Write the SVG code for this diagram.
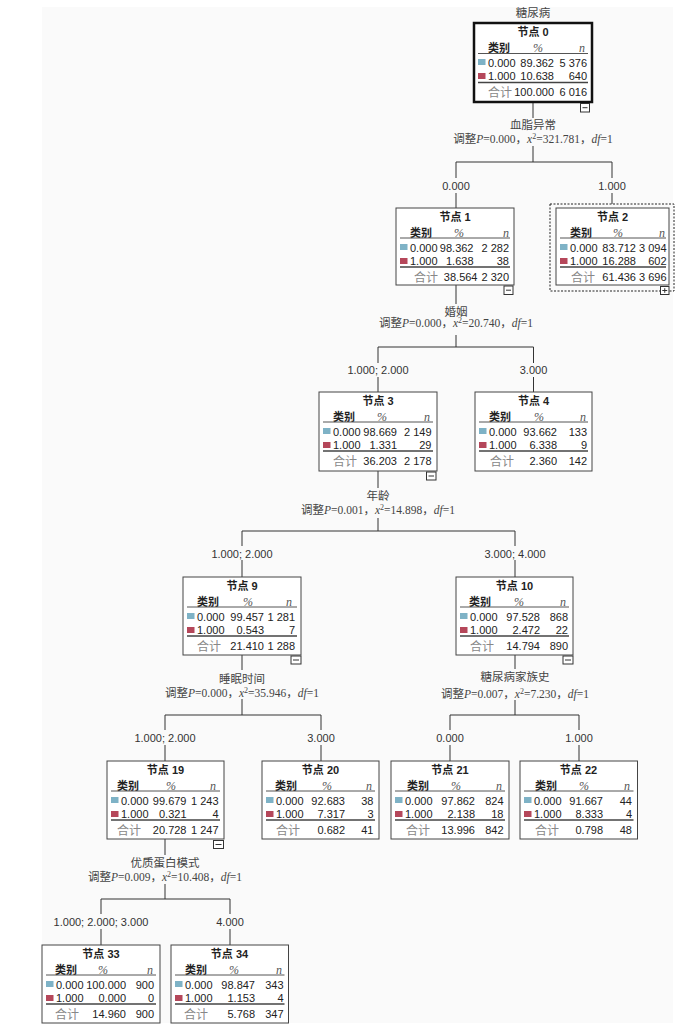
<svg xmlns="http://www.w3.org/2000/svg" width="688" height="1029" viewBox="0 0 688 1029">
<style>
.bg{fill:#fafafa}
.box{fill:#fff;stroke:#444;stroke-width:1}
.box0{fill:#fff;stroke:#111;stroke-width:2.5}
.dash{fill:none;stroke:#222;stroke-width:1;stroke-dasharray:2 1.5}
.title{font-family:"Liberation Sans","Noto Sans CJK SC",sans-serif;font-size:11px;font-weight:bold;fill:#222;text-anchor:middle}
.hdr{font-family:"Noto Sans CJK SC",sans-serif;font-size:11px;font-weight:bold;fill:#222;text-anchor:middle}
.it{font-family:"Liberation Serif",serif;font-style:italic;font-size:12px;fill:#555;text-anchor:middle}
.num{font-family:"Liberation Sans",sans-serif;font-size:11px;fill:#222}
.end{text-anchor:end}
.tot{font-family:"Noto Sans CJK SC",sans-serif;font-size:12px;fill:#888;text-anchor:middle}
.rule{stroke:#555;stroke-width:1}
.rule2{stroke:#444;stroke-width:1.6}
.c0{fill:#7eb2c6}
.c1{fill:#b5475a}
.tog{fill:#fff;stroke:#333;stroke-width:1}
.togl{stroke:#333;stroke-width:1}
.conn line{stroke:#333;stroke-width:1}
.lbl{font-family:"Liberation Serif","Noto Sans CJK SC",serif;font-size:11.5px;fill:#444;text-anchor:middle}
.val{font-family:"Liberation Sans",sans-serif;font-size:11px;fill:#333;text-anchor:middle}
</style>
<rect class="bg" x="42" y="7" width="631" height="1016"/>

<g id="connectors" class="conn">
  <line x1="533" y1="102" x2="533" y2="118"/>
  <line x1="533" y1="146" x2="533" y2="162"/>
  <line x1="456" y1="162" x2="612" y2="162"/>
  <line x1="456" y1="162" x2="456" y2="178"/>
  <line x1="456" y1="193" x2="456" y2="208"/>
  <line x1="612" y1="162" x2="612" y2="178"/>
  <line x1="612" y1="193" x2="612" y2="204"/>

  <line x1="456" y1="285" x2="456" y2="304"/>
  <line x1="456" y1="335" x2="456" y2="347"/>
  <line x1="378" y1="347" x2="533.5" y2="347"/>
  <line x1="378" y1="347" x2="378" y2="363"/>
  <line x1="378" y1="377" x2="378" y2="392"/>
  <line x1="533.5" y1="347" x2="533.5" y2="363"/>
  <line x1="533.5" y1="377" x2="533.5" y2="392"/>

  <line x1="378" y1="471" x2="378" y2="488"/>
  <line x1="378" y1="518" x2="378" y2="531"/>
  <line x1="242" y1="531" x2="515" y2="531"/>
  <line x1="242" y1="531" x2="242" y2="546"/>
  <line x1="242" y1="560" x2="242" y2="577"/>
  <line x1="515" y1="531" x2="515" y2="546"/>
  <line x1="515" y1="560" x2="515" y2="577"/>

  <line x1="242" y1="655" x2="242" y2="670"/>
  <line x1="242" y1="699" x2="242" y2="715"/>
  <line x1="165" y1="715" x2="321" y2="715"/>
  <line x1="165" y1="715" x2="165" y2="730"/>
  <line x1="165" y1="745" x2="165" y2="761"/>
  <line x1="321" y1="715" x2="321" y2="730"/>
  <line x1="321" y1="745" x2="321" y2="761"/>

  <line x1="515" y1="655" x2="515" y2="669"/>
  <line x1="515" y1="700" x2="515" y2="715"/>
  <line x1="450" y1="715" x2="579" y2="715"/>
  <line x1="450" y1="715" x2="450" y2="730"/>
  <line x1="450" y1="745" x2="450" y2="761"/>
  <line x1="579" y1="715" x2="579" y2="730"/>
  <line x1="579" y1="745" x2="579" y2="761"/>

  <line x1="165" y1="839" x2="165" y2="855"/>
  <line x1="165" y1="884" x2="165" y2="899"/>
  <line x1="101" y1="899" x2="230" y2="899"/>
  <line x1="101" y1="899" x2="101" y2="914"/>
  <line x1="101" y1="929" x2="101" y2="945"/>
  <line x1="230" y1="899" x2="230" y2="914"/>
  <line x1="230" y1="929" x2="230" y2="945"/>
</g>

<g id="labels">
  <text class="lbl" x="533" y="17">糖尿病</text>

  <text class="lbl" x="533" y="129">血脂异常</text>
  <text class="lbl" x="533" y="143">调整<tspan font-style="italic">P</tspan>=0.000，<tspan font-style="italic">x</tspan><tspan font-size="8" dy="-4">2</tspan><tspan dy="4">=321.781，</tspan><tspan font-style="italic">df</tspan>=1</text>
  <text class="val" x="456" y="189.5">0.000</text>
  <text class="val" x="612" y="189.5">1.000</text>

  <text class="lbl" x="456" y="315.5">婚姻</text>
  <text class="lbl" x="456" y="327">调整<tspan font-style="italic">P</tspan>=0.000，<tspan font-style="italic">x</tspan><tspan font-size="8" dy="-4">2</tspan><tspan dy="4">=20.740，</tspan><tspan font-style="italic">df</tspan>=1</text>
  <text class="val" x="378" y="374">1.000; 2.000</text>
  <text class="val" x="533.5" y="374">3.000</text>

  <text class="lbl" x="378" y="500">年龄</text>
  <text class="lbl" x="378" y="514">调整<tspan font-style="italic">P</tspan>=0.001，<tspan font-style="italic">x</tspan><tspan font-size="8" dy="-4">2</tspan><tspan dy="4">=14.898，</tspan><tspan font-style="italic">df</tspan>=1</text>
  <text class="val" x="242" y="557.5">1.000; 2.000</text>
  <text class="val" x="515" y="557.5">3.000; 4.000</text>

  <text class="lbl" x="242" y="682.5">睡眠时间</text>
  <text class="lbl" x="242" y="696.5">调整<tspan font-style="italic">P</tspan>=0.000，<tspan font-style="italic">x</tspan><tspan font-size="8" dy="-4">2</tspan><tspan dy="4">=35.946，</tspan><tspan font-style="italic">df</tspan>=1</text>
  <text class="val" x="165" y="742">1.000; 2.000</text>
  <text class="val" x="321" y="742">3.000</text>

  <text class="lbl" x="515" y="681">糖尿病家族史</text>
  <text class="lbl" x="515" y="697.5">调整<tspan font-style="italic">P</tspan>=0.007，<tspan font-style="italic">x</tspan><tspan font-size="8" dy="-4">2</tspan><tspan dy="4">=7.230，</tspan><tspan font-style="italic">df</tspan>=1</text>
  <text class="val" x="450" y="741.5">0.000</text>
  <text class="val" x="579" y="741.5">1.000</text>

  <text class="lbl" x="165" y="867">优质蛋白模式</text>
  <text class="lbl" x="165" y="881">调整<tspan font-style="italic">P</tspan>=0.009，<tspan font-style="italic">x</tspan><tspan font-size="8" dy="-4">2</tspan><tspan dy="4">=10.408，</tspan><tspan font-style="italic">df</tspan>=1</text>
  <text class="val" x="101" y="926">1.000; 2.000; 3.000</text>
  <text class="val" x="230" y="926">4.000</text>
</g>

<g id="node0" transform="translate(474,23)">
  <rect class="box0" x="0" y="0" width="118" height="79"/>
  <text class="title" x="59" y="13">节点 0</text>
  <text class="hdr" x="25" y="29">类别</text><text class="it" x="64" y="29">%</text><text class="it" x="108" y="29">n</text>
  <line class="rule" x1="4" y1="30.5" x2="114" y2="30.5"/>
  <rect class="c0" x="4" y="36" width="7.5" height="6"/>
  <text class="num" x="14" y="43.5">0.000</text><text class="num end" x="80" y="43.5">89.362</text><text class="num end" x="113" y="43.5">5 376</text>
  <rect class="c1" x="4" y="50" width="7.5" height="6"/>
  <text class="num" x="14" y="57">1.000</text><text class="num end" x="80" y="57">10.638</text><text class="num end" x="113" y="57">640</text>
  <line class="rule2" x1="4" y1="59.5" x2="114" y2="59.5"/>
  <text class="tot" x="26" y="73.5">合计</text><text class="num end" x="80" y="73">100.000</text><text class="num end" x="113" y="73">6 016</text>
  <rect class="tog" x="106.5" y="80.5" width="9" height="8.5"/><line class="togl" x1="108.5" y1="84.7" x2="113.5" y2="84.7"/>
</g>

<g id="node1" transform="translate(396,208)">
  <rect class="box" x="0" y="0" width="118" height="77"/>
  <text class="title" x="59" y="12.5">节点 1</text>
  <text class="hdr" x="25" y="28.5">类别</text><text class="it" x="63" y="28.5">%</text><text class="it" x="110" y="28.5">n</text>
  <line class="rule" x1="4" y1="30" x2="114" y2="30"/>
  <rect class="c0" x="4" y="36" width="7.5" height="6"/>
  <text class="num" x="14" y="43.5">0.000</text><text class="num end" x="77.5" y="43.5">98.362</text><text class="num end" x="113" y="43.5">2 282</text>
  <rect class="c1" x="4" y="50" width="7.5" height="6"/>
  <text class="num" x="14" y="57">1.000</text><text class="num end" x="77.5" y="57">1.638</text><text class="num end" x="113" y="57">38</text>
  <line class="rule2" x1="4" y1="59" x2="114" y2="59"/>
  <text class="tot" x="30" y="73.5">合计</text><text class="num end" x="81.5" y="73">38.564</text><text class="num end" x="113" y="73">2 320</text>
  <rect class="tog" x="108" y="78" width="9" height="8.5"/><line class="togl" x1="110" y1="82.2" x2="115" y2="82.2"/>
</g>

<g id="node2" transform="translate(556,208)">
  <rect class="dash" x="-6" y="-4" width="124" height="87"/>
  <rect class="box" x="0" y="0" width="113" height="77"/>
  <text class="title" x="56.5" y="12.5">节点 2</text>
  <text class="hdr" x="25" y="28.5">类别</text><text class="it" x="62" y="28.5">%</text><text class="it" x="106" y="28.5">n</text>
  <line class="rule" x1="4" y1="30" x2="110" y2="30"/>
  <rect class="c0" x="4" y="36" width="7.5" height="6"/>
  <text class="num" x="14" y="43.5">0.000</text><text class="num end" x="80" y="43.5">83.712</text><text class="num end" x="110.5" y="43.5">3 094</text>
  <rect class="c1" x="4" y="50" width="7.5" height="6"/>
  <text class="num" x="14" y="57">1.000</text><text class="num end" x="80" y="57">16.288</text><text class="num end" x="110.5" y="57">602</text>
  <line class="rule2" x1="4" y1="59" x2="110" y2="59"/>
  <text class="tot" x="27" y="73.5">合计</text><text class="num end" x="80" y="73">61.436</text><text class="num end" x="110.5" y="73">3 696</text>
  <rect class="tog" x="104.5" y="78.5" width="8.5" height="8"/><line class="togl" x1="106.3" y1="82.5" x2="111.2" y2="82.5"/><line class="togl" x1="108.75" y1="80.2" x2="108.75" y2="84.8"/>
</g>

<g id="node3" transform="translate(319,392)">
  <rect class="box" x="0" y="0" width="118" height="79"/>
  <text class="title" x="59" y="12.5">节点 3</text>
  <text class="hdr" x="25" y="28.5">类别</text><text class="it" x="63" y="28.5">%</text><text class="it" x="108" y="28.5">n</text>
  <line class="rule" x1="4" y1="30" x2="114" y2="30"/>
  <rect class="c0" x="4" y="36" width="7.5" height="6"/>
  <text class="num" x="14" y="43.5">0.000</text><text class="num end" x="78" y="43.5">98.669</text><text class="num end" x="112.5" y="43.5">2 149</text>
  <rect class="c1" x="4" y="50" width="7.5" height="6"/>
  <text class="num" x="14" y="57">1.000</text><text class="num end" x="78" y="57">1.331</text><text class="num end" x="112.5" y="57">29</text>
  <line class="rule2" x1="4" y1="59" x2="114" y2="59"/>
  <text class="tot" x="26" y="73.5">合计</text><text class="num end" x="78" y="73">36.203</text><text class="num end" x="112.5" y="73">2 178</text>
  <rect class="tog" x="107.5" y="80" width="9.5" height="8"/><line class="togl" x1="109.5" y1="84" x2="115" y2="84"/>
</g>

<g id="node4" transform="translate(475,392)">
  <rect class="box" x="0" y="0" width="117" height="79"/>
  <text class="title" x="58.5" y="12.5">节点 4</text>
  <text class="hdr" x="25" y="28.5">类别</text><text class="it" x="64" y="28.5">%</text><text class="it" x="108" y="28.5">n</text>
  <line class="rule" x1="4" y1="30" x2="113" y2="30"/>
  <rect class="c0" x="4" y="36" width="7.5" height="6"/>
  <text class="num" x="14" y="43.5">0.000</text><text class="num end" x="82" y="43.5">93.662</text><text class="num end" x="112" y="43.5">133</text>
  <rect class="c1" x="4" y="50" width="7.5" height="6"/>
  <text class="num" x="14" y="57">1.000</text><text class="num end" x="82" y="57">6.338</text><text class="num end" x="112" y="57">9</text>
  <line class="rule2" x1="4" y1="59" x2="113" y2="59"/>
  <text class="tot" x="27" y="73.5">合计</text><text class="num end" x="82" y="73">2.360</text><text class="num end" x="112" y="73">142</text>
</g>

<g id="node9" transform="translate(183,577)">
  <rect class="box" x="0" y="0" width="118" height="78"/>
  <text class="title" x="59" y="12.5">节点 9</text>
  <text class="hdr" x="25" y="28.5">类别</text><text class="it" x="65" y="28.5">%</text><text class="it" x="106" y="28.5">n</text>
  <line class="rule" x1="4" y1="30" x2="114" y2="30"/>
  <rect class="c0" x="4" y="36" width="7.5" height="6"/>
  <text class="num" x="14" y="43.5">0.000</text><text class="num end" x="81" y="43.5">99.457</text><text class="num end" x="112" y="43.5">1 281</text>
  <rect class="c1" x="4" y="50" width="7.5" height="6"/>
  <text class="num" x="14" y="57">1.000</text><text class="num end" x="81" y="57">0.543</text><text class="num end" x="112" y="57">7</text>
  <line class="rule2" x1="4" y1="59" x2="114" y2="59"/>
  <text class="tot" x="26" y="73.5">合计</text><text class="num end" x="81" y="73">21.410</text><text class="num end" x="112" y="73">1 288</text>
  <rect class="tog" x="108" y="79" width="10" height="8"/><line class="togl" x1="110" y1="83" x2="116" y2="83"/>
</g>

<g id="node10" transform="translate(456,577)">
  <rect class="box" x="0" y="0" width="117" height="78"/>
  <text class="title" x="58.5" y="12.5">节点 10</text>
  <text class="hdr" x="24" y="28.5">类别</text><text class="it" x="63" y="28.5">%</text><text class="it" x="107" y="28.5">n</text>
  <line class="rule" x1="4" y1="30" x2="113" y2="30"/>
  <rect class="c0" x="4" y="36" width="7.5" height="6"/>
  <text class="num" x="14" y="43.5">0.000</text><text class="num end" x="84" y="43.5">97.528</text><text class="num end" x="112" y="43.5">868</text>
  <rect class="c1" x="4" y="50" width="7.5" height="6"/>
  <text class="num" x="14" y="57">1.000</text><text class="num end" x="84" y="57">2.472</text><text class="num end" x="112" y="57">22</text>
  <line class="rule2" x1="4" y1="59" x2="113" y2="59"/>
  <text class="tot" x="26" y="73.5">合计</text><text class="num end" x="84" y="73">14.794</text><text class="num end" x="112" y="73">890</text>
  <rect class="tog" x="107" y="79" width="10" height="8"/><line class="togl" x1="109" y1="83" x2="115" y2="83"/>
</g>

<g id="node19" transform="translate(107,761)">
  <rect class="box" x="0" y="0" width="117" height="78"/>
  <text class="title" x="58.5" y="12.5">节点 19</text>
  <text class="hdr" x="21" y="28.5">类别</text><text class="it" x="64" y="28.5">%</text><text class="it" x="106" y="28.5">n</text>
  <line class="rule" x1="4" y1="30" x2="113" y2="30"/>
  <rect class="c0" x="4" y="36" width="7.5" height="6"/>
  <text class="num" x="14" y="43.5">0.000</text><text class="num end" x="79.5" y="43.5">99.679</text><text class="num end" x="111.5" y="43.5">1 243</text>
  <rect class="c1" x="4" y="50" width="7.5" height="6"/>
  <text class="num" x="14" y="57">1.000</text><text class="num end" x="79.5" y="57">0.321</text><text class="num end" x="111.5" y="57">4</text>
  <line class="rule2" x1="4" y1="59" x2="113" y2="59"/>
  <text class="tot" x="22" y="73.5">合计</text><text class="num end" x="79.5" y="73">20.728</text><text class="num end" x="111.5" y="73">1 247</text>
  <rect class="tog" x="106.5" y="79.5" width="10" height="8"/><line class="togl" x1="108.5" y1="83.5" x2="114.5" y2="83.5"/>
</g>

<g id="node20" transform="translate(262,761)">
  <rect class="box" x="0" y="0" width="117" height="78"/>
  <text class="title" x="58.5" y="12.5">节点 20</text>
  <text class="hdr" x="24" y="28.5">类别</text><text class="it" x="65" y="28.5">%</text><text class="it" x="107" y="28.5">n</text>
  <line class="rule" x1="4" y1="30" x2="113" y2="30"/>
  <rect class="c0" x="4" y="36" width="7.5" height="6"/>
  <text class="num" x="14" y="43.5">0.000</text><text class="num end" x="83" y="43.5">92.683</text><text class="num end" x="111.5" y="43.5">38</text>
  <rect class="c1" x="4" y="50" width="7.5" height="6"/>
  <text class="num" x="14" y="57">1.000</text><text class="num end" x="83" y="57">7.317</text><text class="num end" x="111.5" y="57">3</text>
  <line class="rule2" x1="4" y1="59" x2="113" y2="59"/>
  <text class="tot" x="26" y="73.5">合计</text><text class="num end" x="83" y="73">0.682</text><text class="num end" x="111.5" y="73">41</text>
</g>

<g id="node21" transform="translate(391,761)">
  <rect class="box" x="0" y="0" width="118" height="78"/>
  <text class="title" x="59" y="12.5">节点 21</text>
  <text class="hdr" x="27" y="28.5">类别</text><text class="it" x="65" y="28.5">%</text><text class="it" x="108" y="28.5">n</text>
  <line class="rule" x1="4" y1="30" x2="114" y2="30"/>
  <rect class="c0" x="4" y="36" width="7.5" height="6"/>
  <text class="num" x="14" y="43.5">0.000</text><text class="num end" x="84" y="43.5">97.862</text><text class="num end" x="112.5" y="43.5">824</text>
  <rect class="c1" x="4" y="50" width="7.5" height="6"/>
  <text class="num" x="14" y="57">1.000</text><text class="num end" x="84" y="57">2.138</text><text class="num end" x="112.5" y="57">18</text>
  <line class="rule2" x1="4" y1="59" x2="114" y2="59"/>
  <text class="tot" x="27" y="73.5">合计</text><text class="num end" x="84" y="73">13.996</text><text class="num end" x="112.5" y="73">842</text>
</g>

<g id="node22" transform="translate(520,761)">
  <rect class="box" x="0" y="0" width="117.5" height="78"/>
  <text class="title" x="58.5" y="12.5">节点 22</text>
  <text class="hdr" x="26" y="28.5">类别</text><text class="it" x="64" y="28.5">%</text><text class="it" x="107" y="28.5">n</text>
  <line class="rule" x1="4" y1="30" x2="113.5" y2="30"/>
  <rect class="c0" x="4" y="36" width="7.5" height="6"/>
  <text class="num" x="14" y="43.5">0.000</text><text class="num end" x="83" y="43.5">91.667</text><text class="num end" x="112" y="43.5">44</text>
  <rect class="c1" x="4" y="50" width="7.5" height="6"/>
  <text class="num" x="14" y="57">1.000</text><text class="num end" x="83" y="57">8.333</text><text class="num end" x="112" y="57">4</text>
  <line class="rule2" x1="4" y1="59" x2="113.5" y2="59"/>
  <text class="tot" x="27" y="73.5">合计</text><text class="num end" x="83" y="73">0.798</text><text class="num end" x="112" y="73">48</text>
</g>

<g id="node33" transform="translate(42,945)">
  <rect class="box" x="0" y="0" width="118" height="78"/>
  <text class="title" x="59" y="12.5">节点 33</text>
  <text class="hdr" x="24" y="28.5">类别</text><text class="it" x="61" y="28.5">%</text><text class="it" x="108" y="28.5">n</text>
  <line class="rule" x1="4" y1="30" x2="114" y2="30"/>
  <rect class="c0" x="4" y="36" width="7.5" height="6"/>
  <text class="num" x="14" y="43.5">0.000</text><text class="num end" x="84" y="43.5">100.000</text><text class="num end" x="112" y="43.5">900</text>
  <rect class="c1" x="4" y="50" width="7.5" height="6"/>
  <text class="num" x="14" y="57">1.000</text><text class="num end" x="84" y="57">0.000</text><text class="num end" x="112" y="57">0</text>
  <line class="rule2" x1="4" y1="59" x2="114" y2="59"/>
  <text class="tot" x="25" y="73.5">合计</text><text class="num end" x="84" y="73">14.960</text><text class="num end" x="112" y="73">900</text>
</g>

<g id="node34" transform="translate(171,945)">
  <rect class="box" x="0" y="0" width="117.5" height="78"/>
  <text class="title" x="58.5" y="12.5">节点 34</text>
  <text class="hdr" x="25" y="28.5">类别</text><text class="it" x="63" y="28.5">%</text><text class="it" x="108" y="28.5">n</text>
  <line class="rule" x1="4" y1="30" x2="113.5" y2="30"/>
  <rect class="c0" x="4" y="36" width="7.5" height="6"/>
  <text class="num" x="14" y="43.5">0.000</text><text class="num end" x="84" y="43.5">98.847</text><text class="num end" x="112.5" y="43.5">343</text>
  <rect class="c1" x="4" y="50" width="7.5" height="6"/>
  <text class="num" x="14" y="57">1.000</text><text class="num end" x="84" y="57">1.153</text><text class="num end" x="112.5" y="57">4</text>
  <line class="rule2" x1="4" y1="59" x2="113.5" y2="59"/>
  <text class="tot" x="25" y="73.5">合计</text><text class="num end" x="84" y="73">5.768</text><text class="num end" x="112.5" y="73">347</text>
</g>
</svg>
